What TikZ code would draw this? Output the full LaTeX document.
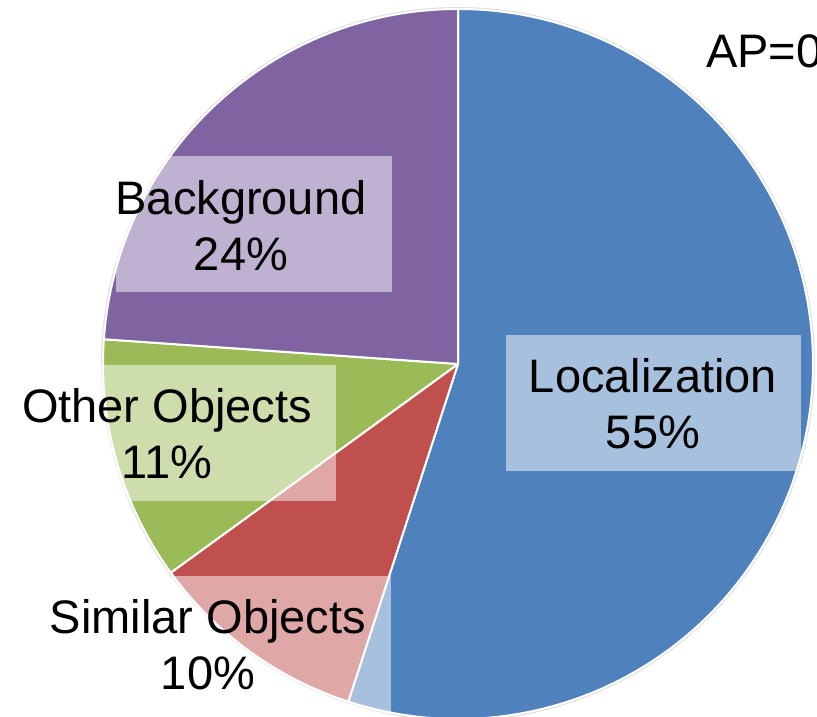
\documentclass[tikz,border=0pt]{standalone}
\usepackage{fontspec}
\setmainfont{Liberation Sans}
\usetikzlibrary{calc}

\definecolor{locblue}{HTML}{4F81BD}
\definecolor{simred}{HTML}{C0504D}
\definecolor{othgreen}{HTML}{9BBB59}
\definecolor{bgpurple}{HTML}{8064A2}

\begin{document}
\begin{tikzpicture}[x=1pt, y=1pt,
        slice/.style={draw=white, line width=2pt, line join=round},
        labelbox/.style={fill=white, fill opacity=0.5, draw=none},
        pietext/.style={font=\fontsize{47}{56}\selectfont, align=center, inner sep=0pt}]
        \useasboundingbox (0,0) rectangle (817,-717);
        \clip (0,0) rectangle (817,-717);
        \coordinate (O) at (458,-364);

        % slices
        \draw[gray!25, line width=2pt] (O) circle (356pt);
        \filldraw[slice, fill=locblue] (O) -- ++(90:355pt) arc[start angle=90, end angle=-108, radius=355pt] -- cycle;
        \filldraw[slice, fill=simred] (O) -- ++(-108:355pt) arc[start angle=-108, end angle=-144, radius=355pt] -- cycle;
        \filldraw[slice, fill=othgreen] (O) -- ++(-144:355pt) arc[start angle=-144, end angle=-184, radius=355pt] -- cycle;
        \filldraw[slice, fill=bgpurple] (O) -- ++(-184:355pt) arc[start angle=-184, end angle=-270, radius=355pt] -- cycle;

        % label boxes
        \fill[labelbox] (506,-335) rectangle (801,-471);
        \fill[labelbox] (116,-156) rectangle (392,-292);
        \fill[labelbox] (0,-365) rectangle (336,-501);
        \fill[labelbox] (25,-576) rectangle (391,-740);

        \node[pietext, anchor=base] (ploc) at (653,-448) {Localization\\55\%};
        \node[pietext, anchor=base] (pbg) at (241,-270) {Background\\24\%};
        \node[pietext, anchor=base] (poth) at (167,-478) {Other Objects\\11\%};
        \node[pietext, anchor=base] (psim) at (208,-689) {Similar Objects\\10\%};
        \node[pietext, anchor=base west] (ap) at (706,-68) {AP=0};

\end{tikzpicture}
\end{document}
